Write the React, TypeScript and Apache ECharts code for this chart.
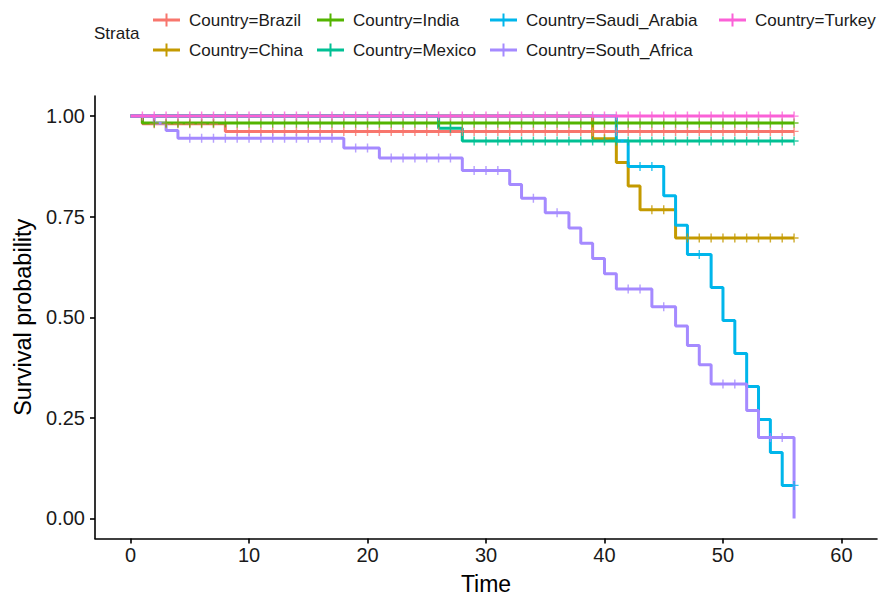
import React, { useEffect, useRef } from 'react';
import * as echarts from 'echarts';

// ---------- data ----------
const STRATA = [
  'Country=Brazil',
  'Country=China',
  'Country=India',
  'Country=Mexico',
  'Country=Saudi_Arabia',
  'Country=South_Africa',
  'Country=Turkey',
];

const MAX_TIME = 56;

const brazilEventTimes = [1, 8];
const brazilSurvival = [0.981, 0.962];
const brazilCensorTimes = [2, 3, 4, 5, 6, 7, 9, 10, 11, 12, 13, 14, 15, 16, 17, 18, 19, 20, 21, 22, 23, 24, 25, 26, 27, 28, 29, 30, 31, 32, 33, 34, 35, 36, 37, 38, 39, 40, 41, 42, 43, 44, 45, 46, 47, 48, 49, 50, 51, 52, 53, 54, 55, 56];

const chinaEventTimes = [39, 41, 42, 43, 46];
const chinaSurvival = [0.944, 0.885, 0.826, 0.767, 0.697];
const chinaCensorTimes = [40, 44, 45, 47, 48, 49, 50, 51, 52, 53, 54, 55, 56];

const indiaEventTimes = [1];
const indiaSurvival = [0.983];
const indiaCensorTimes = [2, 3, 4, 5, 6, 7, 8, 9, 10, 11, 12, 13, 14, 15, 16, 17, 18, 19, 20, 21, 22, 23, 24, 25, 26, 27, 28, 29, 30, 31, 32, 33, 34, 35, 36, 37, 38, 39, 40, 41, 42, 43, 44, 45, 46, 47, 48, 49, 50, 51, 52, 53, 54, 55, 56];

const mexicoEventTimes = [26, 28];
const mexicoSurvival = [0.97, 0.938];
const mexicoCensorTimes = [27, 29, 30, 31, 32, 33, 34, 35, 36, 37, 38, 39, 40, 41, 42, 43, 44, 45, 46, 47, 48, 49, 50, 51, 52, 53, 54, 55, 56];

const saudiEventTimes = [41, 42, 45, 46, 47, 49, 50, 51, 52, 53, 54, 55];
const saudiSurvival = [0.938, 0.875, 0.802, 0.729, 0.656, 0.574, 0.492, 0.41, 0.328, 0.246, 0.164, 0.082];
const saudiCensorTimes = [43, 44, 48, 56];

const southAfricaEventTimes = [2, 3, 4, 18, 21, 28, 32, 33, 35, 37, 38, 39, 40, 41, 44, 46, 47, 48, 49, 52, 53, 56];
const southAfricaSurvival = [0.982, 0.964, 0.945, 0.921, 0.896, 0.865, 0.83, 0.796, 0.76, 0.722, 0.684, 0.646, 0.608, 0.57, 0.526, 0.478, 0.43, 0.382, 0.334, 0.268, 0.201, 0];
const southAfricaCensorTimes = [5, 6, 7, 8, 9, 10, 11, 12, 13, 14, 15, 16, 17, 19, 20, 22, 23, 24, 25, 26, 27, 29, 30, 31, 34, 36, 42, 43, 45, 50, 51, 54, 55];

const turkeyEventTimes: number[] = [];
const turkeySurvival: number[] = [];
const turkeyCensorTimes = [1, 2, 3, 4, 5, 6, 7, 8, 9, 10, 11, 12, 13, 14, 15, 16, 17, 18, 19, 20, 21, 22, 23, 24, 25, 26, 27, 28, 29, 30, 31, 32, 33, 34, 35, 36, 37, 38, 39, 40, 41, 42, 43, 44, 45, 46, 47, 48, 49, 50, 51, 52, 53, 54, 55, 56];

const X_TICKS = [0, 10, 20, 30, 40, 50, 60];
const Y_TICKS = [0, 0.25, 0.5, 0.75, 1];

// ---------- styles ----------
const COLORS = ['#F8766D', '#C49A00', '#53B400', '#00C094', '#00B6EB', '#A58AFF', '#FB61D7'];
const FONT = "'Liberation Sans', Arial, Helvetica, sans-serif";

const GROUPS = [
  { t: brazilEventTimes, s: brazilSurvival, c: brazilCensorTimes },
  { t: chinaEventTimes, s: chinaSurvival, c: chinaCensorTimes },
  { t: indiaEventTimes, s: indiaSurvival, c: indiaCensorTimes },
  { t: mexicoEventTimes, s: mexicoSurvival, c: mexicoCensorTimes },
  { t: saudiEventTimes, s: saudiSurvival, c: saudiCensorTimes },
  { t: southAfricaEventTimes, s: southAfricaSurvival, c: southAfricaCensorTimes },
  { t: turkeyEventTimes, s: turkeySurvival, c: turkeyCensorTimes },
];

const LEGEND_POS = [
  { left: 153, top: 10 },
  { left: 153, top: 40 },
  { left: 317, top: 10 },
  { left: 317, top: 40 },
  { left: 490, top: 10 },
  { left: 490, top: 40 },
  { left: 719, top: 10 },
];

const PLUS_ICON = 'path://M0,5 L27,5 L27,8 L0,8 Z M12.5,0 L14.5,0 L14.5,13 L12.5,13 Z';
const CENSOR_SYMBOL = 'path://M4.2,0 L5.8,0 L5.8,10 L4.2,10 Z M0,4.2 L10,4.2 L10,5.8 L0,5.8 Z';

function survivalAt(times: number[], surv: number[], t: number): number {
  let s = 1;
  for (let i = 0; i < times.length; i++) {
    if (times[i] <= t) s = surv[i];
  }
  return s;
}

function buildOption() {
  const lineSeries = GROUPS.map((g, i) => {
    const data: number[][] = [[0, 1]];
    g.t.forEach((t, k) => data.push([t, g.s[k]]));
    data.push([MAX_TIME, survivalAt(g.t, g.s, MAX_TIME)]);
    return {
      name: STRATA[i],
      type: 'line',
      step: 'end',
      data,
      showSymbol: false,
      symbol: 'none',
      lineStyle: { color: COLORS[i], width: 3 },
      itemStyle: { color: COLORS[i] },
      z: 2,
    };
  });
  const censorSeries = GROUPS.map((g, i) => ({
    name: STRATA[i],
    type: 'scatter',
    data: g.c.map((t) => [t, survivalAt(g.t, g.s, t)]),
    symbol: CENSOR_SYMBOL,
    symbolSize: 9,
    itemStyle: { color: COLORS[i] },
    z: 3,
  }));

  const legends = STRATA.map((name, i) => ({
    data: [{ name, icon: PLUS_ICON }],
    left: LEGEND_POS[i].left,
    top: LEGEND_POS[i].top,
    orient: 'horizontal',
    padding: 0,
    itemWidth: 27,
    itemHeight: 13,
    itemStyle: { borderWidth: 0 },
    selectedMode: false,
    textStyle: {
      fontFamily: FONT,
      fontSize: 17,
      color: '#1a1a1a',
      lineHeight: 20,
      padding: [0, 0, 0, 4],
    },
  }));

  const axisCommon = {
    axisLine: { show: true, onZero: false, lineStyle: { color: '#000', width: 1.6 } },
    splitLine: { show: false },
  };

  return {
    animation: false,
    backgroundColor: '#fff',
    legend: legends,
    graphic: [
      {
        type: 'text',
        left: 94,
        top: 25,
        style: { text: 'Strata', fontFamily: FONT, fontSize: 17, fill: '#1a1a1a' },
      },
    ],
    grid: { left: 95, right: 11, top: 96, bottom: 53, containLabel: false },
    xAxis: {
      type: 'value',
      min: -3,
      max: 63,
      name: 'Time',
      nameLocation: 'middle',
      nameGap: 33.5,
      nameTextStyle: { fontFamily: FONT, fontSize: 23, color: '#000' },
      ...axisCommon,
      axisTick: { show: true, length: 5, customValues: X_TICKS, lineStyle: { color: '#000', width: 1.6 } },
      axisLabel: {
        customValues: X_TICKS,
        margin: 6,
        fontFamily: FONT,
        fontSize: 20,
        color: '#1a1a1a',
      },
    },
    yAxis: {
      type: 'value',
      min: -0.05,
      max: 1.05,
      name: 'Survival probability',
      nameLocation: 'middle',
      nameGap: 58,
      nameTextStyle: { fontFamily: FONT, fontSize: 23.5, color: '#000' },
      ...axisCommon,
      axisTick: { show: true, length: 5, customValues: Y_TICKS, lineStyle: { color: '#000', width: 1.6 } },
      axisLabel: {
        customValues: Y_TICKS,
        margin: 10,
        fontFamily: FONT,
        fontSize: 20,
        color: '#1a1a1a',
        formatter: (v: number) => v.toFixed(2),
      },
    },
    series: [...lineSeries, ...censorSeries],
  };
}

export default function App() {
  const ref = useRef<HTMLDivElement>(null);
  useEffect(() => {
    if (!ref.current) return;
    const chart = echarts.init(ref.current, null, { renderer: 'svg' });
    chart.setOption(buildOption() as any);
    return () => chart.dispose();
  }, []);
  return (
    <div
      ref={ref}
      style={{ position: 'fixed', left: 0, top: 0, width: 888, height: 600, background: '#fff' }}
    />
  );
}
